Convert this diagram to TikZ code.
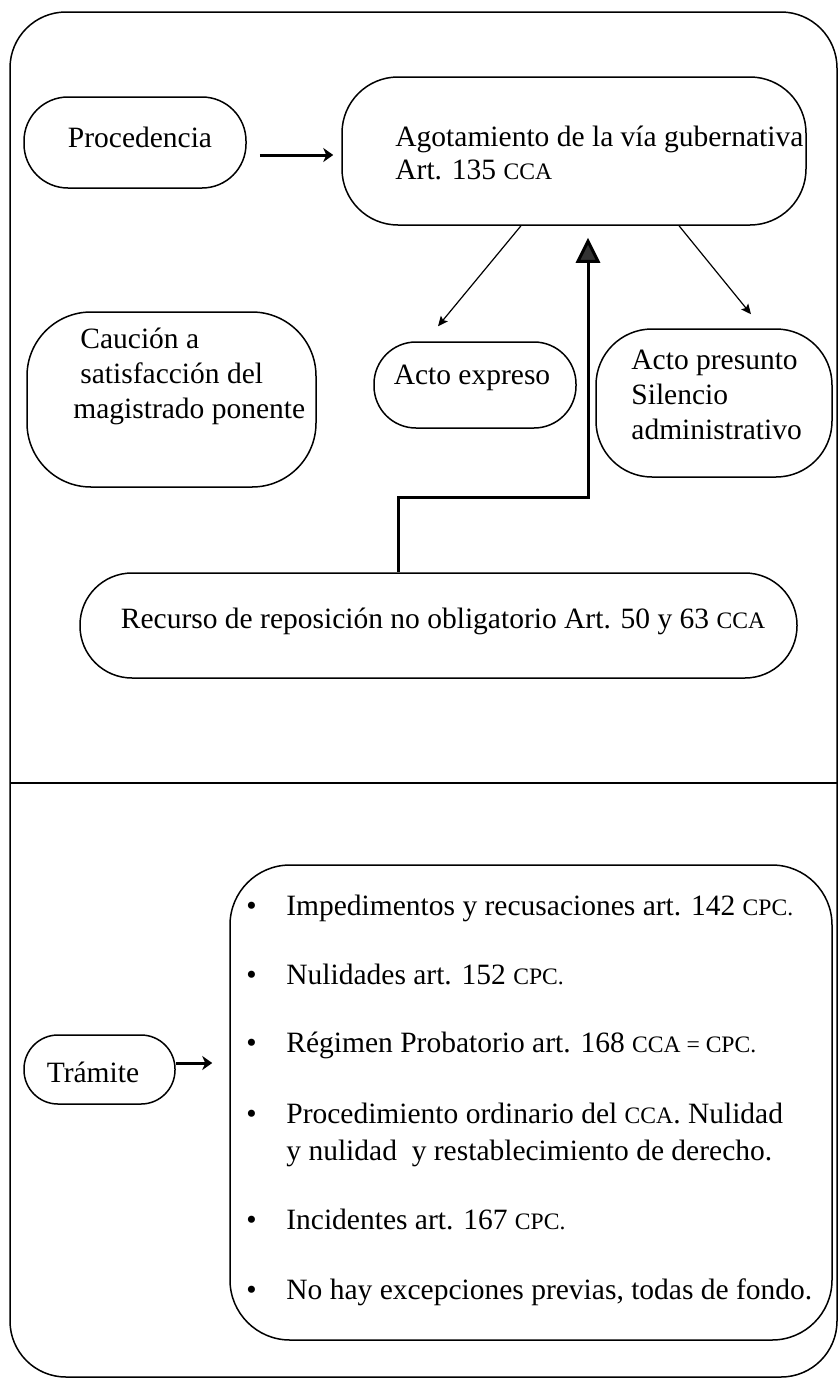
\documentclass[tikz,border=0pt]{standalone}
\usepackage{fontspec}
\setmainfont{Liberation Serif}
\usetikzlibrary{arrows.meta,calc}
% reduced capitals for the code abbreviations
\newcommand\smc[1]{{\fontsize{11.8pt}{11.8pt}\selectfont #1}}
% bullet hung to the left of an item line
\newcommand\itm{\llap{\makebox[20pt][l]{\textbullet}}}

\begin{document}
\begin{tikzpicture}[x=0.5pt,y=-0.5pt,
  box/.style={draw,line width=0.75pt,rounded corners=#1,inner sep=0pt},
  txt/.style={inner sep=0pt,font=\fontsize{14.75pt}{17.5pt}\selectfont},
  tightlines/.style={inner sep=0pt,font=\fontsize{14.75pt}{16.5pt}\selectfont},
  heavy/.style={line width=1.5pt,-{Stealth[length=5pt,width=7pt,inset=1.5pt]}},
  thinarrow/.style={line width=0.6pt,-{Stealth[length=5pt,width=4.5pt,inset=1pt]}},
  bigtip/.style={line width=1.5pt,-{Triangle[length=12.5pt,width=12pt,fill=black!80]}}]
\useasboundingbox (0,0) rectangle (839,1381);

% outer frame and divider between the two parts
\draw[line width=0.75pt,rounded corners=28pt] (10,12) rectangle (837,1377);
\draw[line width=0.9pt] (10,783) -- (837,783);

% upper part: boxes
\node[box=22pt,minimum width=111pt,minimum height=45.5pt] (proc) at (135,142.5) {};
\node[box=28pt,minimum width=232pt,minimum height=74pt] (agot) at (574,151) {};
\node[box=32pt,minimum width=144.5pt,minimum height=87.5pt] (caucion) at (171.5,399.5) {};
\node[box=21pt,minimum width=101pt,minimum height=43pt] (expreso) at (475,385) {};
\node[box=28pt,minimum width=118pt,minimum height=74pt] (presunto) at (714,403) {};
\node[box=26pt,minimum width=358.5pt,minimum height=52.5pt] (recurso) at (438.5,625.5) {};

% upper part: texts
\node[txt,anchor=base] (procT) at (140,147) {Procedencia};
\node[tightlines,anchor=base west] (agotT) at (395,146)
  {\begin{tabular}[t]{@{}l@{}}Agotamiento de la vía gubernativa\\Art. 135 \smc{CCA}\end{tabular}};
\node[txt,anchor=base west] (caucionT) at (73,348)
  {\begin{tabular}[t]{@{}l@{}}\hspace{3.5pt}Caución a\\\hspace{3.5pt}satisfacción del\\magistrado ponente\end{tabular}};
\node[txt,anchor=base] (expresoT) at (472,384) {Acto expreso};
\node[txt,anchor=base west] (presuntoT) at (631,369)
  {\begin{tabular}[t]{@{}l@{}}Acto presunto\\Silencio\\administrativo\end{tabular}};
\node[txt,anchor=base] (recursoT) at (443,628)
  {Recurso de reposición no obligatorio Art. 50 y 63 \smc{CCA}};

% upper part: connectors
\draw[heavy] ($(proc.east)+(13,12.5)$) -- ($(agot.west)+(-8,4)$);
\draw[thinarrow] ($(agot.south)+(-53,0)$) -- ($(expreso.north)+(-37,-15)$);
\draw[thinarrow] ($(agot.south)+(105,0)$) -- ($(presunto.north)+(37,-14)$);
\draw[bigtip] ($(recurso.north)+(-40.5,0)$) |- ($(agot.south)+(14,272)$)
  -- ($(agot.south)+(14,12)$);

% lower part: boxes
\node[box=17pt,minimum width=75.5pt,minimum height=34.5pt] (tramite) at (99.5,1069.5) {};
\node[box=30pt,minimum width=301pt,minimum height=237.5pt] (lista) at (531,1102.5) {};

% lower part: texts
\node[txt,anchor=base] (tramiteT) at (93,1082) {Trámite};
\node[txt,anchor=base west] (i1) at (286,915) {\itm Impedimentos y recusaciones art. 142 \smc{CPC.}};
\node[txt,anchor=base west] (i2) at (286,984) {\itm Nulidades art. 152 \smc{CPC.}};
\node[txt,anchor=base west] (i3) at (286,1052) {\itm Régimen Probatorio art. 168 \smc{CCA = CPC.}};
\node[txt,anchor=base west] (i4) at (286,1123)
  {\begin{tabular}[t]{@{}l@{}}\itm Procedimiento ordinario del \smc{CCA}. Nulidad\\[1pt]y nulidad\ \ y restablecimiento de derecho.\end{tabular}};
\node[txt,anchor=base west] (i5) at (286,1229) {\itm Incidentes art. 167 \smc{CPC.}};
\node[txt,anchor=base west] (i6) at (286,1299) {\itm No hay excepciones previas, todas de fondo.};

% lower part: connector
\draw[heavy] ($(tramite.east)+(0,-6.5)$) -- ($(lista.west)+(-17,-39.5)$);
\end{tikzpicture}
\end{document}
